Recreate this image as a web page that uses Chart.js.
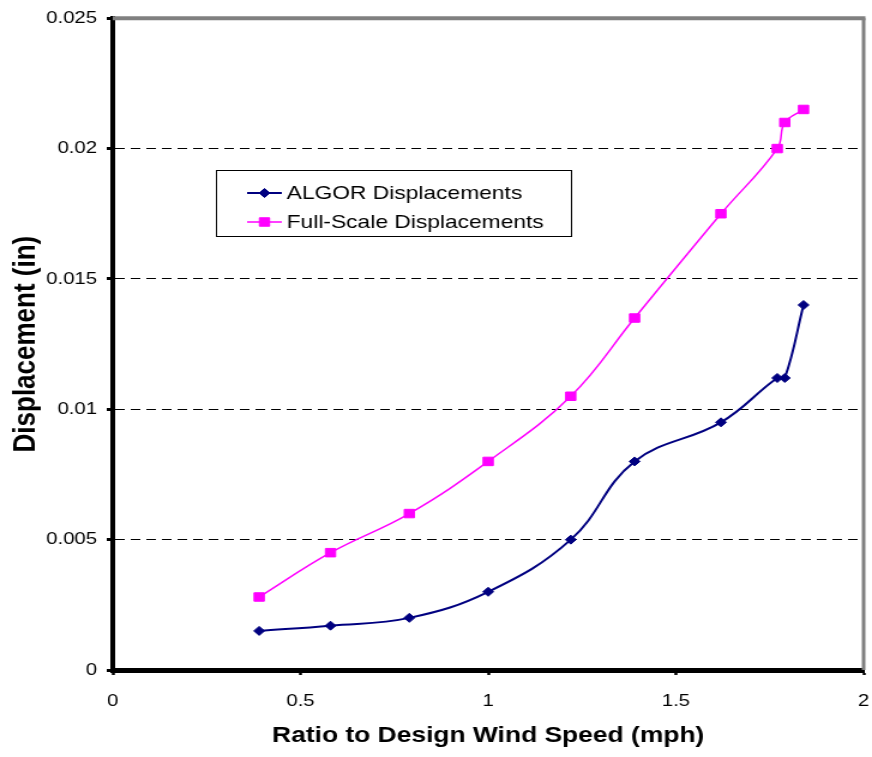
<!DOCTYPE html>
<html>
<head>
<meta charset="utf-8">
<script src="https://cdn.jsdelivr.net/npm/chart.js@4/dist/chart.umd.min.js"></script>
<style>
    body { margin: 0; background: #fff; }
</style>
</head>
<body>
<!-- 원본 그림이 가로로 약 1.2배 늘어나 있어서 캔버스를 727px로 그리고 872px로 늘린다 -->
<canvas id="chart" width="727" height="757" style="display:block;width:872px;height:757px"></canvas>
<script>
// 데이터
const windRatio = [0.39, 0.58, 0.79, 1.0, 1.22, 1.39, 1.62, 1.77, 1.79, 1.84];
const algorDisp = [0.0015, 0.0017, 0.002, 0.003, 0.005, 0.008, 0.0095, 0.0112, 0.0112, 0.014];
const fullScaleDisp = [0.0028, 0.0045, 0.006, 0.008, 0.0105, 0.0135, 0.0175, 0.02, 0.021, 0.0215];
const seriesNames = ['ALGOR Displacements', 'Full-Scale Displacements'];
const xTickLabels = ['0', '0.5', '1', '1.5', '2'];
const yTickLabels = ['0', '0.005', '0.01', '0.015', '0.02', '0.025'];

const FONT = '"Liberation Sans", Arial, sans-serif';

function toPoints(values) {
    return windRatio.map((x, i) => ({ x: x, y: values[i] }));
}

// 위쪽, 오른쪽 회색 테두리
const framePlugin = {
    id: 'frame',
    beforeDatasetsDraw(chart) {
        const { ctx, chartArea: a } = chart;
        ctx.save();
        ctx.strokeStyle = '#808080';
        ctx.lineWidth = 4;
        ctx.beginPath();
        ctx.moveTo(a.left, a.top);
        ctx.lineTo(a.right + 1.5, a.top);
        ctx.stroke();
        ctx.lineWidth = 3;
        ctx.beginPath();
        ctx.moveTo(a.right, a.top);
        ctx.lineTo(a.right, a.bottom);
        ctx.stroke();
        ctx.restore();
    }
};

// 범례 박스 (그래프 안쪽)
const legendPlugin = {
    id: 'boxLegend',
    afterDatasetsDraw(chart) {
        const ctx = chart.ctx;
        ctx.save();
        ctx.fillStyle = '#fff';
        ctx.fillRect(180, 170, 296, 66);
        ctx.strokeStyle = '#000';
        ctx.lineWidth = 1;
        ctx.strokeRect(180.5, 170.5, 296, 66);
        chart.data.datasets.forEach((ds, i) => {
            const y = 193 + i * 29;
            ctx.strokeStyle = ds.borderColor;
            ctx.lineWidth = ds.borderWidth;
            ctx.beginPath();
            ctx.moveTo(206, y);
            ctx.lineTo(235, y);
            ctx.stroke();
            ctx.fillStyle = ds.backgroundColor;
            ctx.lineWidth = 1;
            Chart.helpers.drawPoint(ctx, {
                pointStyle: ds.pointStyle,
                radius: ds.pointRadius,
                rotation: 0,
                borderWidth: 1
            }, 220.5, y);
            ctx.fillStyle = '#000';
            ctx.font = '19px ' + FONT;
            ctx.textBaseline = 'middle';
            ctx.textAlign = 'left';
            ctx.fillText(ds.label, 239, y + 1);
        });
        ctx.restore();
    }
};

const chart = new Chart(document.getElementById('chart'), {
    type: 'scatter',
    data: {
        datasets: [
            {
                label: seriesNames[0],
                data: toPoints(algorDisp),
                showLine: true,
                borderColor: '#000080',
                backgroundColor: '#000080',
                borderWidth: 2,
                pointStyle: 'rectRot',
                pointRadius: 4.5,
                pointBorderWidth: 1,
                tension: 0.4
            },
            {
                label: seriesNames[1],
                data: toPoints(fullScaleDisp),
                showLine: true,
                borderColor: '#FF00FF',
                backgroundColor: '#FF00FF',
                borderWidth: 1.5,
                pointStyle: 'rect',
                pointRadius: 6,
                pointBorderWidth: 1,
                tension: 0.4
            }
        ]
    },
    options: {
        responsive: false,
        devicePixelRatio: 1,
        animation: false,
        layout: { padding: { left: 0, top: 17, right: 6, bottom: 0 } },
        plugins: {
            legend: { display: false },
            tooltip: { enabled: false }
        },
        scales: {
            x: {
                type: 'linear',
                min: 0,
                max: 2,
                afterFit: s => {
                    s.height = 87;
                    // 눈금 글자 여백 때문에 오른쪽이 줄어들지 않게
                    s.paddingLeft = 5;
                    s.paddingRight = 5;
                },
                afterBuildTicks: s => {
                    s.ticks = xTickLabels.map(t => ({ value: parseFloat(t) }));
                },
                ticks: {
                    padding: 16,
                    color: '#000',
                    font: { family: FONT, size: 17 },
                    callback: (v, i) => xTickLabels[i]
                },
                grid: {
                    drawOnChartArea: false,
                    drawTicks: true,
                    tickLength: 5,
                    tickColor: '#000',
                    tickWidth: 2.5
                },
                border: { color: '#000', width: 5 },
                title: {
                    display: true,
                    text: 'Ratio to Design Wind Speed (mph)',
                    color: '#000',
                    font: { family: FONT, size: 22, weight: 'bold' },
                    padding: { top: 0, bottom: 8 }
                }
            },
            y: {
                min: 0,
                max: 0.025,
                afterFit: s => { s.width = 94; },
                afterBuildTicks: s => {
                    s.ticks = yTickLabels.map(t => ({ value: parseFloat(t) }));
                },
                ticks: {
                    padding: 8,
                    color: '#000',
                    font: { family: FONT, size: 17 },
                    callback: (v, i) => yTickLabels[i]
                },
                grid: {
                    color: c => (c.tick && (c.tick.value === 0 || c.tick.value === 0.025)) ? 'rgba(0,0,0,0)' : '#000',
                    lineWidth: 1,
                    drawTicks: true,
                    tickLength: 5,
                    tickColor: '#000',
                    tickWidth: 3
                },
                border: { color: '#000', width: 4, dash: [8, 5] },
                title: {
                    display: true,
                    text: 'Displacement (in)',
                    color: '#000',
                    font: { family: FONT, size: 26, weight: 'bold' },
                    padding: { top: 6, bottom: 0 }
                }
            }
        }
    },
    plugins: [framePlugin, legendPlugin]
});
</script>
</body>
</html>
